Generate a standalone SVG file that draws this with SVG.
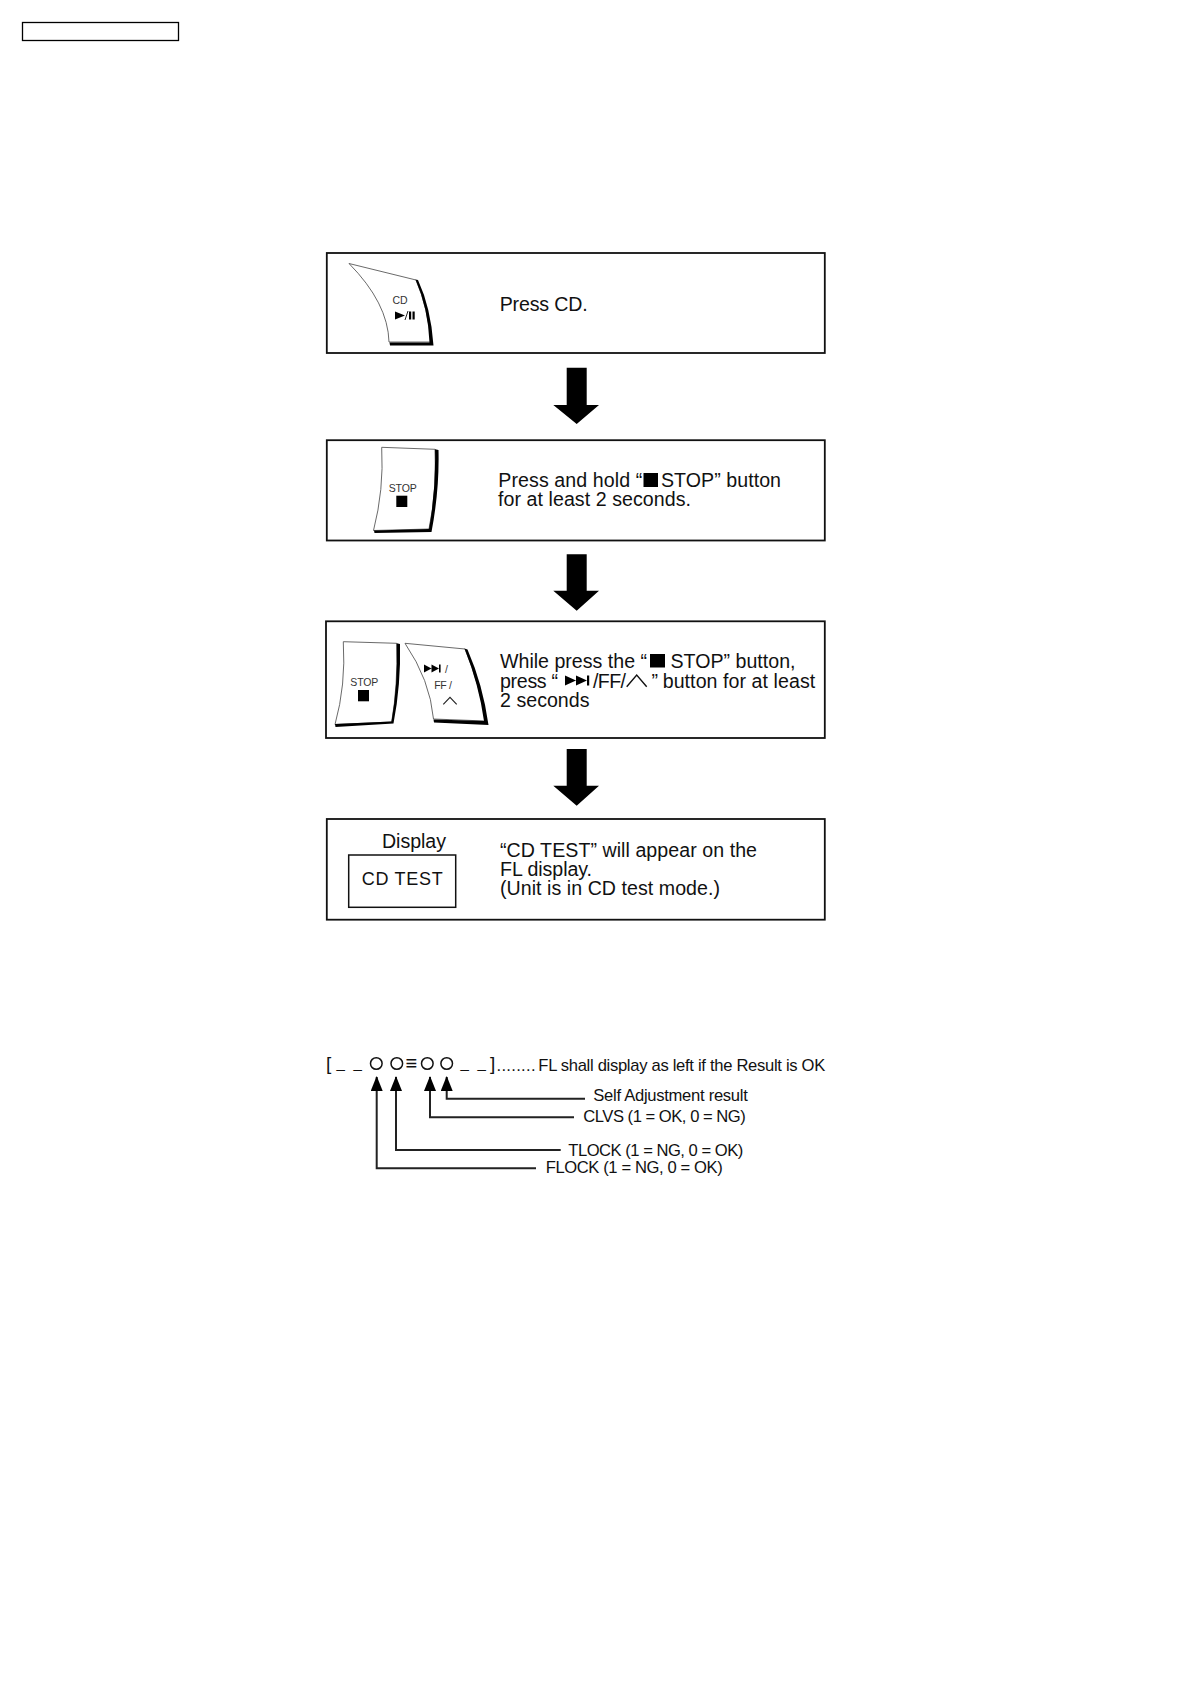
<svg xmlns="http://www.w3.org/2000/svg" width="1190" height="1684" viewBox="0 0 1190 1684">
<style>
text{font-family:"Liberation Sans",Arial,sans-serif;fill:#111}
.box{fill:#fff;stroke:#111;stroke-width:1.8}
.t{font-size:19.6px}
.s{font-size:16.6px}
.i{font-size:10.5px;fill:#333}
.btn{fill:#fff;stroke:#444;stroke-width:.8}
.sh{fill:#000;stroke:none}
.arrow{fill:#000}
.lead{fill:none;stroke:#222;stroke-width:2;marker-end:url(#ah)}
.c{fill:none;stroke:#111;stroke-width:1.5}
.k{fill:#000}
</style>
<defs>
<marker id="ah" markerUnits="userSpaceOnUse" markerWidth="15" markerHeight="12" refX="14" refY="6" orient="auto" viewBox="0 0 15 12"><path d="M0 0L15 6L0 12Z" fill="#000"/></marker>
</defs>
<rect width="1190" height="1684" fill="#fff"/>
<g id="header"><rect x="22.5" y="22.500" width="156" height="18" fill="#fff" stroke="#000" stroke-width="1.300"/></g>

<g id="step1">
<rect class="box" x="326.800" y="253" width="498" height="100"/>
<path class="btn" d="M349 263.500L416 280Q428 308 431 342L389 342Q388 303 349 263.500Z"/>
<path class="sh" d="M415.500 279.500Q428 308 429.500 342.500L389.500 342.500L390 345.500L433.500 345.500Q431 308 418 280Z"/>
<text class="i" x="392.500" y="304" textLength="15">CD</text>
<path class="k" d="M395 311.500L405 315.500L395 319.500Z"/>
<path d="M405 320L408 311" stroke="#222" stroke-width="1" fill="none"/>
<path class="k" d="M409 311.500h2.200v8h-2.200zM412.500 311.500h2.200v8h-2.200z"/>
<text class="t" x="499.700" y="311" textLength="88">Press CD.</text>
</g>

<g id="step2">
<rect class="box" x="326.800" y="440.200" width="498" height="100.300"/>
<path class="btn" d="M381.700 447.300L435 449.300Q437 490 429 529L373.500 530.500Q384 490 381.700 447.300Z"/>
<path class="sh" d="M435 449.300L438.500 450Q439.500 490 431.500 532L374.500 533L374 530.500L429 529Q436 490 435 449.300Z"/>
<text class="i" x="402.700" y="491.700" text-anchor="middle" textLength="28">STOP</text>
<rect class="k" x="396.300" y="495.700" width="11" height="11.300"/>
<text class="t" x="498.300" y="486.700" textLength="144">Press and hold “</text>
<rect class="k" x="643.500" y="473" width="14.500" height="14"/>
<text class="t" x="661" y="486.700" textLength="120">STOP” button</text>
<text class="t" x="498" y="505.700" textLength="193">for at least 2 seconds.</text>
</g>

<g id="step3">
<rect class="box" x="326" y="621.300" width="498.800" height="116.700"/>
<path class="btn" d="M343.300 641.700L396.700 643.300Q398 685 391.700 722L335 724.500Q346 685 343.300 641.700Z"/>
<path class="sh" d="M396.700 643.300L400 644Q401 685 393.500 723.500L335.500 727L335 724L391.500 721.500Q398 685 396.700 643.300Z"/>
<text class="i" x="364.300" y="685.700" text-anchor="middle" textLength="28">STOP</text>
<rect class="k" x="358" y="690" width="11" height="11.300"/>
<path class="btn" d="M405 643.300L465 649Q480 685 485.500 721L433.500 719Q430 680 405 643.300Z"/>
<path class="sh" d="M464.500 648.500L467.500 649.500Q483 685 488.500 725L434 722.500L433.500 719.500L484 721Q479 685 464.500 648.500Z"/>
<path class="k" d="M424 664.500L431.500 668.500L424 672.500ZM431.500 664.500L439 668.500L431.500 672.500Z"/>
<rect class="k" x="439" y="664.500" width="1.600" height="8"/>
<text class="i" x="445" y="672.500">/</text>
<text class="i" x="434.300" y="689" textLength="17.500">FF /</text>
<path d="M443.300 704.300L450 697.300L456.700 704.300" fill="none" stroke="#222" stroke-width="1.100"/>
<text class="t" x="500" y="668.300" textLength="147">While press the “</text>
<rect class="k" x="650" y="654" width="15" height="13.500"/>
<text class="t" x="670.500" y="668.300" textLength="125">STOP” button,</text>
<text class="t" x="500" y="687.700" textLength="58">press “</text>
<path class="k" d="M565 675.500L576 680.500L565 685.500ZM576 675.500L587 680.500L576 685.500Z"/>
<rect class="k" x="587" y="675.500" width="2.200" height="10"/>
<text class="t" x="593" y="687.700" textLength="33">/FF/</text>
<path d="M626.700 686.700L636.700 675L646.700 686.700" fill="none" stroke="#111" stroke-width="1.400"/>
<text class="t" x="651.500" y="687.700">”</text>
<text class="t" x="662.700" y="687.700" textLength="152.500">button for at least</text>
<text class="t" x="500" y="707.300" textLength="89.500">2 seconds</text>
</g>

<g id="step4">
<rect class="box" x="326.800" y="819" width="498" height="100.700"/>
<text class="t" x="382" y="848.300" textLength="64">Display</text>
<rect x="348.700" y="855" width="107" height="52.300" fill="#fff" stroke="#111" stroke-width="1.500"/>
<text x="361.700" y="885.300" textLength="81" style="font-size:18px">CD TEST</text>
<text class="t" x="500" y="856.700" textLength="257">“CD TEST” will appear on the</text>
<text class="t" x="500" y="875.700" textLength="92">FL display.</text>
<text class="t" x="500" y="895" textLength="220">(Unit is in CD test mode.)</text>
</g>

<g id="connectors">
<path class="arrow" d="M566.700 367.700H586.700V405H599L576.700 424L553.300 405H566.700Z"/>
<path class="arrow" d="M566.700 554.300H586.700V590.700H599L576.700 610.700L553.300 590.700H566.700Z"/>
<path class="arrow" d="M566.700 749H586.700V785.700H599L576.700 805.700L553.300 785.700H566.700Z"/>
<path class="lead" d="M536 1168.300H376.700V1077"/>
<path class="lead" d="M560.700 1150H396V1077"/>
<path class="lead" d="M574 1117.300H430V1077"/>
<path class="lead" d="M585 1098.700H446.700V1077"/>
</g>

<g id="readout">
<text x="326" y="1070" style="font-size:19px">[</text>
<text x="336.500" y="1068" style="font-size:15px">_</text>
<text x="353.500" y="1068" style="font-size:15px">_</text>
<circle class="c" cx="376.300" cy="1063.500" r="5.800"/>
<circle class="c" cx="396.800" cy="1063.500" r="5.800"/>
<text x="405.500" y="1070" style="font-size:20px">≡</text>
<circle class="c" cx="427.300" cy="1063.500" r="5.800"/>
<circle class="c" cx="446.700" cy="1063.500" r="5.800"/>
<text x="460.500" y="1068" style="font-size:15px">_</text>
<text x="477.500" y="1068" style="font-size:15px">_</text>
<text x="490" y="1070" style="font-size:19px">]</text>
<text class="s" x="496.500" y="1071" textLength="39">........</text>
<text class="s" x="538.300" y="1071" textLength="287">FL shall display as left if the Result is OK</text>
</g>

<g id="label-self"><text class="s" x="593.300" y="1101" textLength="154.500">Self Adjustment result</text></g>
<g id="label-clvs"><text class="s" x="583.300" y="1122" textLength="162.500">CLVS (1 = OK, 0 = NG)</text></g>
<g id="label-tlock"><text class="s" x="568.300" y="1156" textLength="175">TLOCK (1 = NG, 0 = OK)</text></g>
<g id="label-flock"><text class="s" x="545.700" y="1173.300" textLength="177">FLOCK (1 = NG, 0 = OK)</text></g>
</svg>
